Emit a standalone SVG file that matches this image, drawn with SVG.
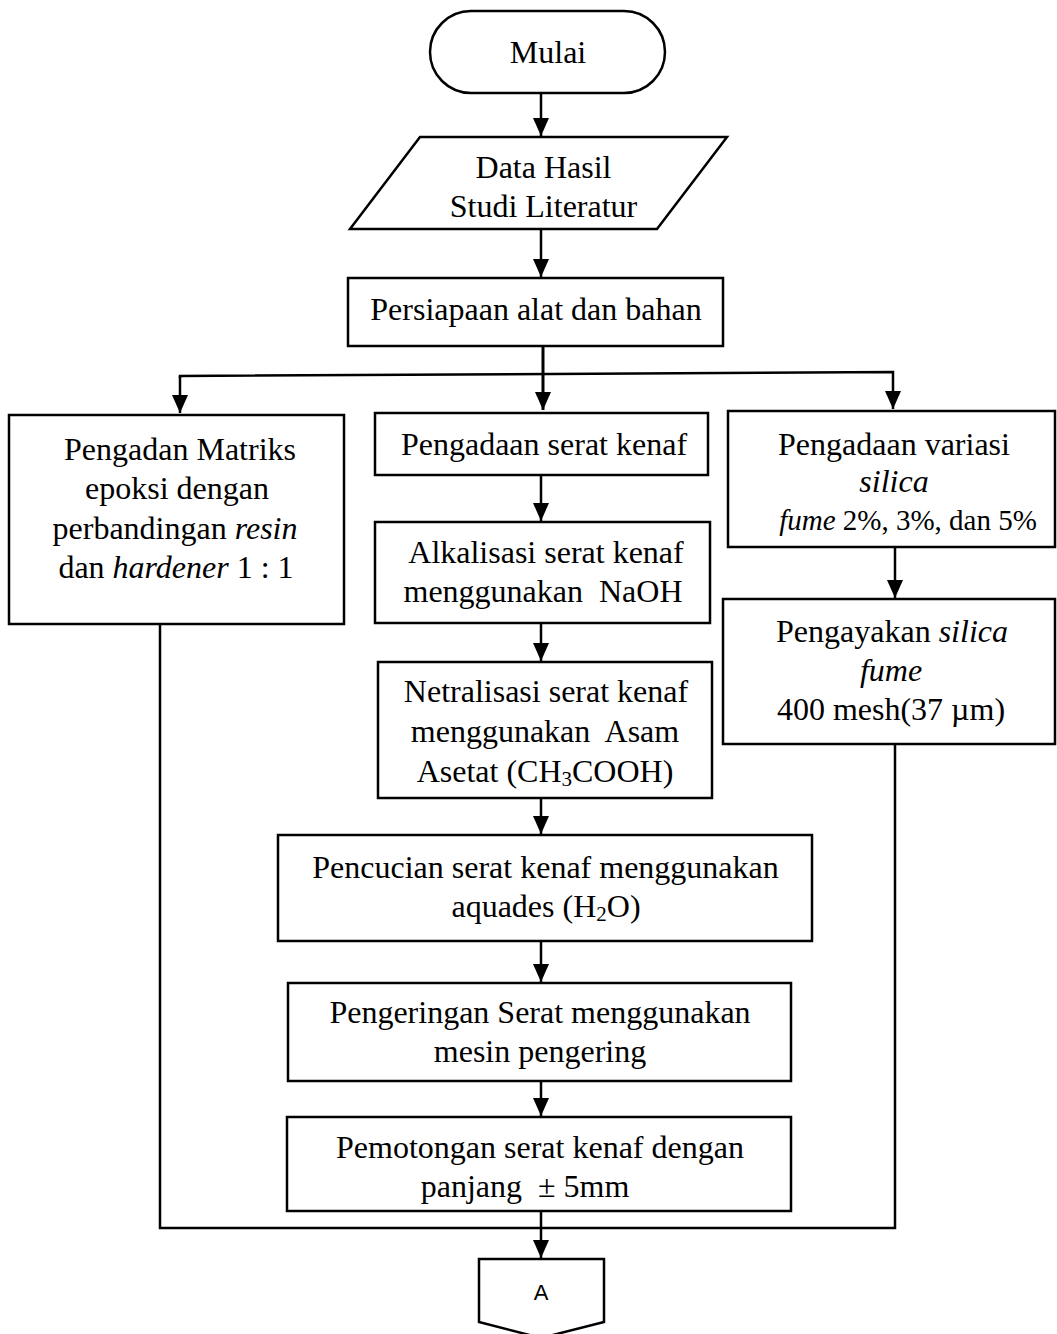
<svg xmlns="http://www.w3.org/2000/svg" width="1057" height="1334" viewBox="0 0 1057 1334">
<style>
.box{fill:#fff;stroke:#000;stroke-width:2.5}
.t{font-family:"Liberation Serif","Times New Roman",serif;font-size:32px;fill:#000;text-anchor:middle}
.c{fill:none;stroke:#000;stroke-width:2.5}
.a{font-family:"Liberation Sans",Arial,sans-serif;font-size:22px;fill:#000;text-anchor:middle}
</style>
<defs>
<marker id="ah" markerUnits="userSpaceOnUse" markerWidth="18" markerHeight="18" refX="18" refY="9" orient="auto" viewBox="0 0 18 18">
<path d="M0,1 L18,9 L0,17 Z" fill="#000"/>
</marker>
</defs>
<rect width="1057" height="1334" fill="#fff"/>
<g id="connectors">
<line class="c" x1="541" y1="93" x2="541" y2="136" marker-end="url(#ah)"/>
<line class="c" x1="541" y1="229" x2="541" y2="277" marker-end="url(#ah)"/>
<line class="c" x1="543" y1="346" x2="543" y2="410" marker-end="url(#ah)" style="stroke-width:3"/>
<polyline class="c" points="180,378 180,376 893,372 893,409" marker-end="url(#ah)"/>
<line class="c" x1="180" y1="376" x2="180" y2="413" marker-end="url(#ah)"/>
<line class="c" x1="541" y1="475" x2="541" y2="521" marker-end="url(#ah)"/>
<line class="c" x1="541" y1="623" x2="541" y2="661" marker-end="url(#ah)"/>
<line class="c" x1="541" y1="798" x2="541" y2="834" marker-end="url(#ah)"/>
<line class="c" x1="541" y1="941" x2="541" y2="982" marker-end="url(#ah)"/>
<line class="c" x1="541" y1="1081" x2="541" y2="1116" marker-end="url(#ah)"/>
<line class="c" x1="895" y1="547" x2="895" y2="598" marker-end="url(#ah)"/>
<line class="c" x1="541" y1="1211" x2="541" y2="1258" marker-end="url(#ah)"/>
<polyline class="c" points="160,623 160,1228 895,1228 895,744"/>
</g>
<g id="mulai">
<rect class="box" x="430" y="11" width="235" height="82" rx="41" ry="41"/>
<text class="t" x="548" y="63">Mulai</text>
</g>
<g id="data">
<polygon class="box" points="420,137 727,137 657,229 350,229"/>
<text class="t" x="543.5" y="178">Data Hasil</text>
<text class="t" x="543.5" y="217">Studi Literatur</text>
</g>
<g id="persiapaan">
<rect class="box" x="348" y="278" width="375" height="68"/>
<text class="t" x="536" y="320">Persiapaan alat dan bahan</text>
</g>
<g id="matriks">
<rect class="box" x="9" y="415" width="335" height="209"/>
<text class="t" x="180" y="460">Pengadan Matriks</text>
<text class="t" x="177" y="499">epoksi dengan</text>
<text class="t" x="175" y="539">perbandingan <tspan font-style="italic">resin</tspan></text>
<text class="t" x="176" y="578">dan <tspan font-style="italic">hardener</tspan> 1 : 1</text>
</g>
<g id="serat">
<rect class="box" x="375" y="413" width="333" height="62"/>
<text class="t" x="544" y="455">Pengadaan serat kenaf</text>
</g>
<g id="alkalisasi">
<rect class="box" x="375" y="522" width="335" height="101"/>
<text class="t" x="546" y="563">Alkalisasi serat kenaf</text>
<text class="t" x="543" y="602" xml:space="preserve">menggunakan  NaOH</text>
</g>
<g id="netralisasi">
<rect class="box" x="378" y="662" width="334" height="136"/>
<text class="t" x="546" y="702">Netralisasi serat kenaf</text>
<text class="t" x="545" y="742" xml:space="preserve">menggunakan  Asam</text>
<text class="t" x="545" y="782">Asetat (CH<tspan font-size="21" dy="4">3</tspan><tspan dy="-4">COOH)</tspan></text>
</g>
<g id="silica">
<rect class="box" x="728" y="411" width="327" height="136"/>
<text class="t" x="894" y="455">Pengadaan variasi</text>
<text class="t" x="894" y="492" font-style="italic">silica</text>
<text class="t" x="908" y="530" style="font-size:29px"><tspan font-style="italic">fume</tspan> 2%, 3%, dan 5%</text>
</g>
<g id="pengayakan">
<rect class="box" x="723" y="599" width="332" height="145"/>
<text class="t" x="892" y="642">Pengayakan <tspan font-style="italic">silica</tspan></text>
<text class="t" x="891" y="681" font-style="italic">fume</text>
<text class="t" x="891" y="720">400 mesh(37 µm)</text>
</g>
<g id="pencucian">
<rect class="box" x="278" y="835" width="534" height="106"/>
<text class="t" x="545.5" y="878">Pencucian serat kenaf menggunakan</text>
<text class="t" x="546" y="917">aquades (H<tspan font-size="21" dy="4">2</tspan><tspan dy="-4">O)</tspan></text>
</g>
<g id="pengeringan">
<rect class="box" x="288" y="983" width="503" height="98"/>
<text class="t" x="540" y="1023">Pengeringan Serat menggunakan</text>
<text class="t" x="540" y="1062">mesin pengering</text>
</g>
<g id="pemotongan">
<rect class="box" x="287" y="1117" width="504" height="94"/>
<text class="t" x="540" y="1158">Pemotongan serat kenaf dengan</text>
<text class="t" x="525" y="1197" xml:space="preserve">panjang  ± 5mm</text>
</g>
<g id="A">
<polygon class="box" points="479,1259 604,1259 604,1322 541,1338 479,1322"/>
<text class="a" x="541" y="1300">A</text>
</g>
</svg>
